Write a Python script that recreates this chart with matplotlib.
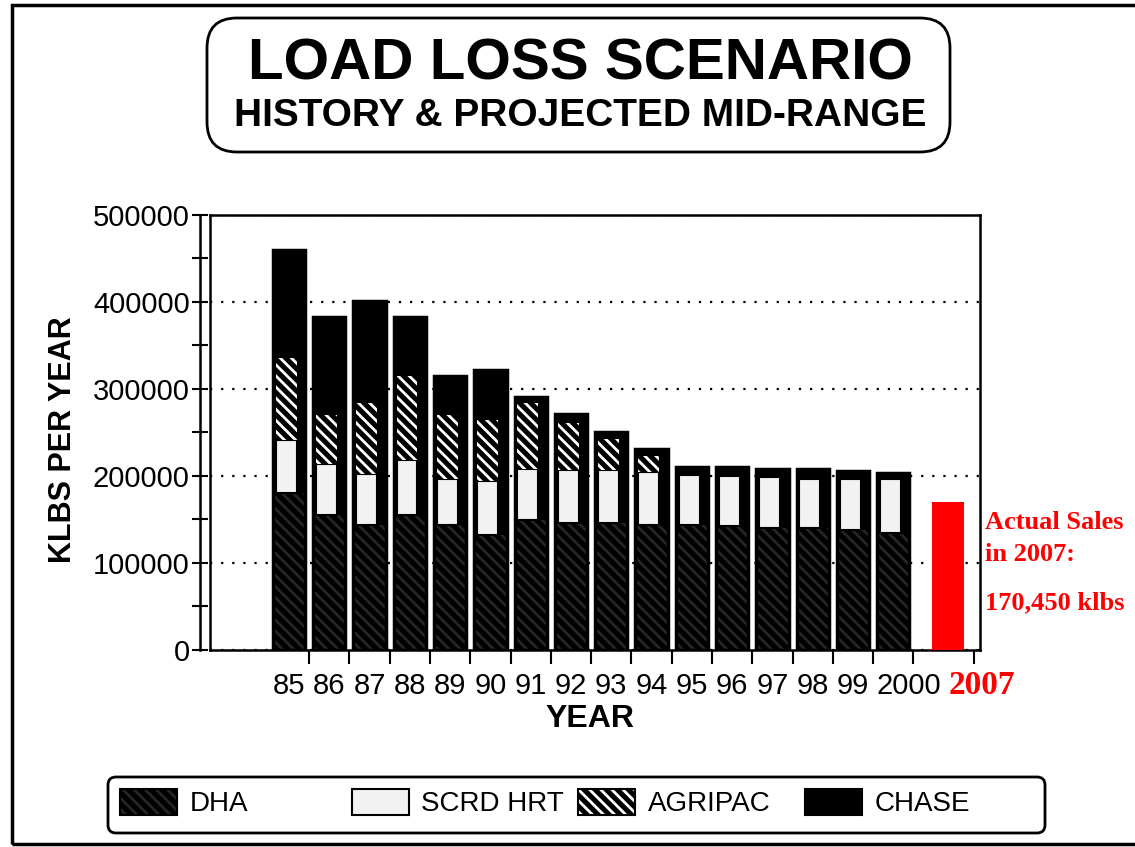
import numpy as np
import matplotlib.pyplot as plt
import matplotlib.transforms as mtransforms
from matplotlib.patches import FancyBboxPatch, Rectangle, Patch
from matplotlib.ticker import FuncFormatter

plt.rcParams['font.family'] = ['Liberation Sans', 'DejaVu Sans']
plt.rcParams['hatch.linewidth'] = 2.0

# values (klbs per year)
years = ['85', '86', '87', '88', '89', '90', '91', '92', '93', '94',
         '95', '96', '97', '98', '99', '2000']
dha = [180000, 155000, 144000, 155000, 144000, 132000, 149000, 146000,
       146000, 144000, 144000, 142500, 140000, 140000, 138000, 134500]
scrd_hrt = [61000, 59000, 58000, 63000, 53000, 62000, 59000, 61000,
            61000, 61000, 57000, 57500, 59000, 57000, 58000, 61500]
agripac = [95000, 56000, 82000, 97000, 73000, 70000, 76000, 54000,
           35500, 18000, 0, 0, 0, 0, 0, 0]
chase = [124000, 113000, 117000, 68000, 45000, 58000, 7000, 10000,
         8000, 8000, 9000, 10000, 9000, 11000, 10000, 7000]
actual_year = '2007'
actual_sales = 170450

series_names = ['DHA', 'SCRD HRT', 'AGRIPAC', 'CHASE']

fig = plt.figure(figsize=(11.35, 8.47), dpi=100)
ax = fig.add_axes([0.185, 0.2326, 0.6784, 0.5136])

x = np.arange(len(years))
dha = np.array(dha)
scrd_hrt = np.array(scrd_hrt)
agripac = np.array(agripac)
chase = np.array(chase)
agri_bottom = dha + scrd_hrt
total = agri_bottom + agripac + chase

w = 0.8
inner_w = 0.52
inner_off = -0.07
hatch = '\\\\\\'

# bar body: hatched DHA at the bottom, the rest black
ax.bar(x, dha, w, color='black', edgecolor='#262626', hatch=hatch, linewidth=0, zorder=2)
ax.bar(x, total - dha, w, bottom=dha, color='black', linewidth=0, zorder=2)
ax.bar(x, total, w, facecolor='none', edgecolor='black', linewidth=2.5, zorder=3)
# inner boxes for SCRD HRT and AGRIPAC
ax.bar(x + inner_off, scrd_hrt, inner_w, bottom=dha, color='#f2f2f2',
       edgecolor='black', linewidth=1.5, zorder=4)
ax.bar(x + inner_off, agripac, inner_w, bottom=agri_bottom, color='black',
       edgecolor='white', hatch=hatch, linewidth=0, zorder=4)

# actual 2007 sales, pasted just right of the 2000 bar
ax.bar(len(years) + 0.35, actual_sales, w, color='#ff0000', linewidth=0, zorder=3)

ax.set_xlim(-1.96, 17.15)
ax.set_ylim(0, 500000)

ax.set_yticks(np.arange(0, 500001, 100000))
ax.set_yticks(np.arange(50000, 500000, 100000), minor=True)
ax.yaxis.set_major_formatter(FuncFormatter(lambda v, p: f'{int(v)}'))
ax.yaxis.grid(True, linestyle=(0, (1, 4)), color='black', linewidth=1.6)
ax.set_axisbelow(True)
ax.tick_params(axis='y', which='both', direction='inout', length=11, width=1.5,
               labelsize=21, pad=2)

ax.set_xticks(x)
ax.set_xticklabels(years)
ax.set_xticks(np.append(np.arange(0.5, 16, 1), 17.0), minor=True)
ax.tick_params(axis='x', which='major', length=0, labelsize=21, pad=16)
ax.tick_params(axis='x', which='minor', direction='out', length=10, width=1.5)
# the "2000" label sits a little to the right in the original
last = ax.get_xticklabels()[-1]
last.set_transform(last.get_transform() + mtransforms.ScaledTranslation(0.15, 0, fig.dpi_scale_trans))

for s in ['top', 'right', 'bottom']:
    ax.spines[s].set_linewidth(1.8)
ax.spines['left'].set_position(('outward', 7))
ax.spines['left'].set_linewidth(1.8)
ax.plot([0, 0], [0, 1], transform=ax.transAxes, color='black', lw=1.8, clip_on=False)

ax.set_ylabel('KLBS PER YEAR', fontsize=22, fontweight='bold')
ax.yaxis.set_label_coords(-0.171, 0.483)
ax.set_xlabel('YEAR', fontsize=23, fontweight='bold')
ax.xaxis.set_label_coords(0.494, -0.125)

# red notes
red = dict(color='#ff0000', fontweight='bold', family=['Liberation Serif', 'DejaVu Serif'])
fig.text(0.868, 0.3642, 'Actual Sales\nin 2007:', fontsize=19, va='center', ha='left',
         linespacing=1.45, **red)
fig.text(0.868, 0.288, f'{actual_sales:,} klbs', fontsize=19, va='center', ha='left', **red)
fig.text(982 / 1135, 1 - 686 / 847, actual_year, fontsize=24, va='center', ha='center', **red)

# title box
fig.add_artist(FancyBboxPatch((2.07, 6.95), 7.43, 1.34,
                              boxstyle='round,pad=0,rounding_size=0.3',
                              transform=fig.dpi_scale_trans, facecolor='none',
                              edgecolor='black', linewidth=2))
fig.text(0.511, 1 - 65 / 847, 'LOAD LOSS SCENARIO', fontsize=42, fontweight='bold',
         ha='center', va='center')
fig.text(0.511, 1 - 116 / 847, 'HISTORY & PROJECTED MID-RANGE', fontsize=28,
         fontweight='bold', ha='center', va='center')

# outer frame
fig.add_artist(Rectangle((0.12, 0.03), 11.6, 8.39, transform=fig.dpi_scale_trans,
                         facecolor='none', edgecolor='black', linewidth=2.5))

# legend
fig.add_artist(FancyBboxPatch((1.08, 0.14), 9.37, 0.56,
                              boxstyle='round,pad=0,rounding_size=0.08',
                              transform=fig.dpi_scale_trans, facecolor='none',
                              edgecolor='black', linewidth=2))
border = dict(facecolor='none', edgecolor='black', linewidth=1.5)
handles = [
    (Patch(facecolor='black', edgecolor='#262626', hatch=hatch, linewidth=0), Patch(**border)),
    Patch(facecolor='#f2f2f2', edgecolor='black', linewidth=1.5),
    (Patch(facecolor='black', edgecolor='white', hatch=hatch, linewidth=0), Patch(**border)),
    Patch(facecolor='black', edgecolor='black', linewidth=1.5),
]
leg_x = [120, 352, 578, 805]
for h, name, xp in zip(handles, series_names, leg_x):
    fig.legend([h], [name], loc='center left', bbox_to_anchor=(xp / 1135, 1 - 803 / 847),
               frameon=False, fontsize=20, handlelength=2.05, handleheight=1.05,
               handletextpad=0.45, borderpad=0, borderaxespad=0)

fig.savefig('out.png', dpi=100, facecolor='white')
